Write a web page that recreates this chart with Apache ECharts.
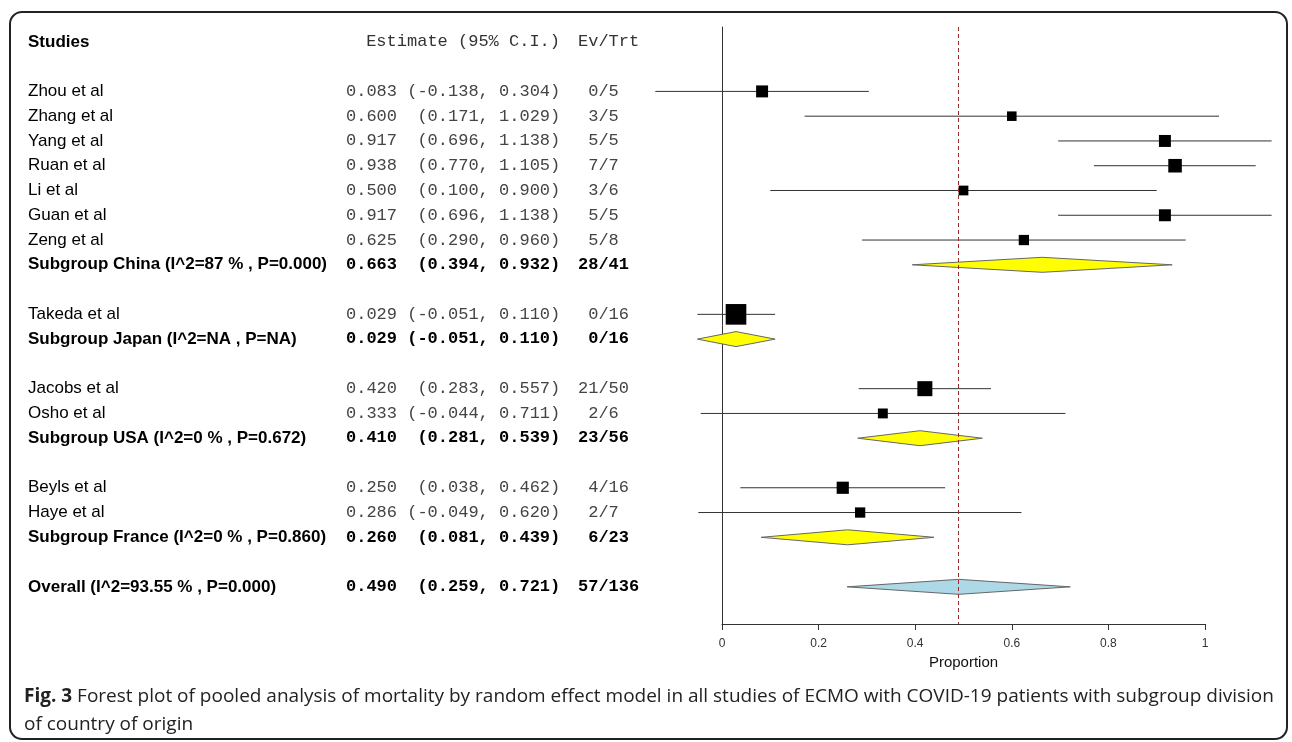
<!DOCTYPE html>
<html>
<head>
<meta charset="utf-8">
<title>Forest plot - ECMO COVID-19 mortality</title>
<script src="https://cdn.jsdelivr.net/npm/echarts@6/dist/echarts.min.js"></script>
<style>
html, body { margin: 0; padding: 0; background: #fff; }
#chart { width: 1292px; height: 742px; }
</style>
</head>
<body>
<div id="chart"></div>
<script>
// individual studies
var studyNames = ['Zhou et al', 'Zhang et al', 'Yang et al', 'Ruan et al', 'Li et al', 'Guan et al', 'Zeng et al',
	'Takeda et al', 'Jacobs et al', 'Osho et al', 'Beyls et al', 'Haye et al'];
var studyGroup = [0, 0, 0, 0, 0, 0, 0, 1, 2, 2, 3, 3];
var studyEst = [0.083, 0.600, 0.917, 0.938, 0.500, 0.917, 0.625, 0.029, 0.420, 0.333, 0.250, 0.286];
var studyLow = [-0.138, 0.171, 0.696, 0.770, 0.100, 0.696, 0.290, -0.051, 0.283, -0.044, 0.038, -0.049];
var studyHigh = [0.304, 1.029, 1.138, 1.105, 0.900, 1.138, 0.960, 0.110, 0.557, 0.711, 0.462, 0.620];
var studyEvents = [0, 3, 5, 7, 3, 5, 5, 0, 21, 2, 4, 2];
var studyTotal = [5, 5, 5, 7, 6, 5, 8, 16, 50, 6, 16, 7];

// subgroups (by country)
var subgroupNames = ['Subgroup China (I^2=87 % , P=0.000)', 'Subgroup Japan (I^2=NA , P=NA)',
	'Subgroup USA (I^2=0 % , P=0.672)', 'Subgroup France (I^2=0 % , P=0.860)'];
var subgroupEst = [0.663, 0.029, 0.410, 0.260];
var subgroupLow = [0.394, -0.051, 0.281, 0.081];
var subgroupHigh = [0.932, 0.110, 0.539, 0.439];
var subgroupEvents = [28, 0, 23, 6];
var subgroupTotal = [41, 16, 56, 23];

// pooled
var overallName = 'Overall (I^2=93.55 % , P=0.000)';
var overallEst = [0.490];
var overallLow = [0.259];
var overallHigh = [0.721];
var overallEvents = [57];
var overallTotal = [136];

var xTicks = [0, 0.2, 0.4, 0.6, 0.8, 1];

/*
 * build row list : studies of a group, then the subgroup line, then a blank line
 */
var rows = [];
var r = 0;
subgroupNames.forEach(function(g, gi){
	studyNames.forEach(function(n, i){
		if(studyGroup[i] !== gi) return;
		rows.push({row: r++, kind: 'study', name: n, est: studyEst[i], lo: studyLow[i], hi: studyHigh[i],
			ev: studyEvents[i], n: studyTotal[i]});
	});
	rows.push({row: r++, kind: 'sub', name: g, est: subgroupEst[gi], lo: subgroupLow[gi], hi: subgroupHigh[gi],
		ev: subgroupEvents[gi], n: subgroupTotal[gi]});
	r++;
});
rows.push({row: r, kind: 'overall', name: overallName, est: overallEst[0], lo: overallLow[0], hi: overallHigh[0],
	ev: overallEvents[0], n: overallTotal[0]});

var studyRows = rows.filter(function(d){ return d.kind === 'study'; });
var poolRows = rows.filter(function(d){ return d.kind !== 'study'; });

function fmtEstimate(d){
	var ci = '(' + d.lo.toFixed(3) + ', ' + d.hi.toFixed(3) + ')';
	while(ci.length < 15) ci = ' ' + ci;
	return d.est.toFixed(3) + ' ' + ci;
}
function fmtEv(d){
	var e = String(d.ev);
	while(e.length < 2) e = ' ' + e;
	return e + '/' + d.n;
}

var SANS = '"Liberation Sans", Arial, sans-serif';
var MONO = '"Liberation Mono", "Courier New", monospace';

function renderStudy(params, api){
	var d = studyRows[params.dataIndex];
	var y = api.coord([0, d.row])[1];
	var x1 = api.coord([d.lo, d.row])[0];
	var x2 = api.coord([d.hi, d.row])[0];
	var xc = api.coord([d.est, d.row])[0];
	// square size follows the study precision
	var se = (d.hi - d.lo) / 3.92;
	var s = 7 + 0.56 / se;
	return {
		type: 'group',
		children: [
			{type: 'line', shape: {x1: x1, y1: y, x2: x2, y2: y}, style: {stroke: '#333', lineWidth: 1}},
			{type: 'rect', shape: {x: xc - s / 2, y: y - s / 2, width: s, height: s}, style: {fill: '#000'}}
		]
	};
}

function renderPool(params, api){
	var d = poolRows[params.dataIndex];
	var y = api.coord([0, d.row])[1];
	var x1 = api.coord([d.lo, d.row])[0];
	var x2 = api.coord([d.hi, d.row])[0];
	var xc = api.coord([d.est, d.row])[0];
	var h = 7.5;
	return {
		type: 'polygon',
		shape: {points: [[x1, y], [xc, y - h], [x2, y], [xc, y + h]]},
		style: {fill: d.kind === 'overall' ? '#ADD8E6' : '#FFFF00', stroke: '#666', lineWidth: 1}
	};
}

var tableRows = [{row: -2, kind: 'header'}].concat(rows);

function renderTable(params, api){
	var d = tableRows[params.dataIndex];
	var y = api.coord([0, d.row])[1];
	if(d.kind === 'header'){
		return {
			type: 'group',
			children: [
				{type: 'text', x: 28, y: y, style: {text: 'Studies', fontFamily: SANS, fontSize: 17, fontWeight: 'bold',
					fill: '#000', align: 'left', verticalAlign: 'middle'}},
				{type: 'text', x: 560, y: y, style: {text: 'Estimate (95% C.I.)', fontFamily: MONO, fontSize: 17,
					fill: '#333', align: 'right', verticalAlign: 'middle'}},
				{type: 'text', x: 578, y: y, style: {text: 'Ev/Trt', fontFamily: MONO, fontSize: 17,
					fill: '#333', align: 'left', verticalAlign: 'middle'}}
			]
		};
	}
	var bold = d.kind !== 'study';
	var monoFill = bold ? '#000' : '#444';
	return {
		type: 'group',
		children: [
			{type: 'text', x: 28, y: y, style: {text: d.name, fontFamily: SANS, fontSize: 17,
				fontWeight: bold ? 'bold' : 'normal', fill: '#000', align: 'left', verticalAlign: 'middle'}},
			{type: 'text', x: 346, y: y, style: {text: fmtEstimate(d), fontFamily: MONO, fontSize: 17,
				fontWeight: bold ? 'bold' : 'normal', fill: monoFill, align: 'left', verticalAlign: 'middle'}},
			{type: 'text', x: 578, y: y, style: {text: fmtEv(d), fontFamily: MONO, fontSize: 17,
				fontWeight: bold ? 'bold' : 'normal', fill: monoFill, align: 'left', verticalAlign: 'middle'}}
		]
	};
}

var voChart = echarts.init(document.getElementById('chart'), null, {renderer: 'canvas'});

var voOption = {
	animation: false,
	backgroundColor: '#fff',
	grid: {left: 722, right: 87, top: 27, bottom: 118},
	xAxis: {
		type: 'value',
		position: 'bottom',
		min: xTicks[0],
		max: xTicks[xTicks.length - 1],
		interval: 0.2,
		splitLine: {show: false},
		axisLine: {show: true, onZero: false, lineStyle: {color: '#333', width: 1}},
		axisTick: {show: true, length: 6, lineStyle: {color: '#333'}},
		axisLabel: {margin: 14, color: '#333', fontSize: 12, fontFamily: SANS,
			formatter: function(v){ return String(+v.toFixed(1)); }},
		name: 'Proportion',
		nameLocation: 'middle',
		nameGap: 31,
		nameTextStyle: {color: '#111', fontSize: 15, fontFamily: SANS}
	},
	yAxis: {
		type: 'value',
		position: 'left',
		inverse: true,
		min: -2.6,
		max: 21.5,
		splitLine: {show: false},
		axisLine: {show: true, onZero: false, lineStyle: {color: '#333', width: 1}},
		axisTick: {show: false},
		axisLabel: {show: false}
	},
	graphic: [
		{type: 'rect', shape: {x: 10, y: 12, width: 1277, height: 727, r: 12}, silent: true,
			style: {fill: 'none', stroke: '#222', lineWidth: 2}},
		{type: 'text', x: 24, y: 697, silent: true,
			style: {text: '{b|Fig. 3} Forest plot of pooled analysis of mortality by random effect model in all studies of ECMO with COVID-19 patients with subgroup division',
				fontFamily: '"Open Sans", sans-serif', fontSize: 19, fill: '#222', verticalAlign: 'middle',
				rich: {b: {fontWeight: 'bold', fontFamily: '"Open Sans", sans-serif', fontSize: 19, fill: '#222'}}}},
		{type: 'text', x: 24, y: 725, silent: true,
			style: {text: 'of country of origin', fontFamily: '"Open Sans", sans-serif', fontSize: 19,
				fill: '#222', verticalAlign: 'middle'}}
	],
	series: [
		{
			type: 'custom',
			name: 'studies',
			renderItem: renderStudy,
			encode: {x: 0, y: 1},
			data: studyRows.map(function(d){ return [d.est, d.row]; }),
			z: 3
		},
		{
			type: 'custom',
			name: 'pooled',
			renderItem: renderPool,
			encode: {x: 0, y: 1},
			data: poolRows.map(function(d){ return [d.est, d.row]; }),
			z: 3,
			markLine: {
				silent: true,
				symbol: ['none', 'none'],
				label: {show: false},
				lineStyle: {color: '#9B2C2C', type: [4, 3], width: 1},
				data: [{xAxis: overallEst[0]}]
			}
		},
		{
			type: 'custom',
			name: 'table',
			renderItem: renderTable,
			encode: {x: 0, y: 1},
			data: tableRows.map(function(d){ return [0, d.row]; }),
			z: 4
		}
	]
};

voChart.setOption(voOption);

window.addEventListener('resize', function(){
	voChart.resize();
});
</script>
</body>
</html>
